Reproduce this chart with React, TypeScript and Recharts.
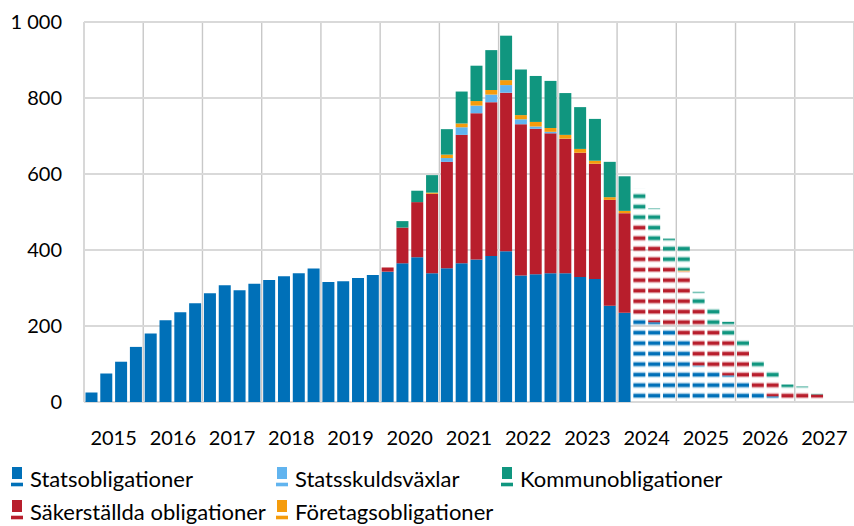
import React from 'react';
import { BarChart, Bar, XAxis, YAxis, CartesianGrid, Cell } from 'recharts';

const years = [2015, 2016, 2017, 2018, 2019, 2020, 2021, 2022, 2023, 2024, 2025, 2026, 2027];
const quarterNames = ['Q1', 'Q2', 'Q3', 'Q4'];
const yTicks = [0, 200, 400, 600, 800, 1000];

// Outcome 2015Q1 - 2024Q1
const statActual = [25, 75, 106, 145, 180, 215, 236, 260, 286, 307, 294, 311, 321, 331, 339, 351, 316, 318, 326, 334, 343, 365, 381, 339, 352, 365, 375, 384, 397, 333, 336, 339, 339, 329, 324, 253, 235];
const sakActual = [0, 0, 0, 0, 0, 0, 0, 0, 0, 0, 0, 0, 0, 0, 0, 0, 0, 0, 0, 0, 11, 94, 145, 209, 280, 338, 385, 405, 417, 398, 383, 368, 354, 327, 303, 279, 262];
const vaxActual = [0, 0, 0, 0, 0, 0, 0, 0, 0, 0, 0, 0, 0, 0, 0, 0, 0, 0, 0, 0, 0, 0, 0, 0, 10, 20, 20, 20, 20, 13, 6, 4, 0, 0, 0, 0, 0];
const forActual = [0, 0, 0, 0, 0, 0, 0, 0, 0, 0, 0, 0, 0, 0, 0, 0, 0, 0, 0, 0, 0, 0, 0, 3, 9, 10, 12, 12, 13, 11, 12, 10, 10, 10, 8, 7, 6];
const komActual = [0, 0, 0, 0, 0, 0, 0, 0, 0, 0, 0, 0, 0, 0, 0, 0, 0, 0, 0, 0, 0, 17, 30, 46, 67, 84, 93, 105, 117, 120, 121, 124, 110, 110, 110, 93, 91];

// Forecast 2024Q2 - 2027Q4
const statForecast = [222, 210, 196, 168, 96, 85, 70, 58, 30, 15, 0, 0, 0, 0, 0];
const sakForecast = [250, 208, 166, 175, 156, 111, 98, 83, 55, 43, 30, 28, 20, 0, 0];
const vaxForecast = [0, 0, 0, 0, 0, 0, 0, 0, 0, 0, 0, 0, 0, 0, 0];
const forForecast = [0, 0, 0, 3, 0, 0, 0, 0, 0, 0, 0, 0, 0, 0, 0];
const komForecast = [89, 92, 68, 66, 38, 52, 43, 24, 25, 24, 16, 13, 2, 0, 0];

const seriesNames = ['Statsobligationer', 'Säkerställda obligationer', 'Statsskuldsväxlar', 'Företagsobligationer', 'Kommunobligationer'];
const seriesKeys = ['stat', 'sak', 'vax', 'for', 'kom'];
const seriesColors = ['#0070b8', '#b81e2c', '#61b4ef', '#f59c0c', '#10967f'];

const categories = years.flatMap((y) => quarterNames.map((q) => `${y} ${q}`));
const actualCount = statActual.length;

const join = (a: number[], f: number[]) => [...a, ...f];
const seriesValues: Record<string, number[]> = {
  stat: join(statActual, statForecast),
  sak: join(sakActual, sakForecast),
  vax: join(vaxActual, vaxForecast),
  for: join(forActual, forForecast),
  kom: join(komActual, komForecast),
};

const data = categories.map((q, i) => {
  const row: any = { q, pos: i + 0.5, fc: i >= actualCount };
  seriesKeys.forEach((k) => {
    row[k] = seriesValues[k][i];
  });
  return row;
});

const gridTicks = years.map((_, i) => i * 4);
const yearTicks = years.map((_, i) => i * 4 + 2);

const fmtY = (v: number) => (v >= 1000 ? `${Math.floor(v / 1000)} ${String(v % 1000).padStart(3, '0')}` : String(v));
const fmtYear = (v: number) => String(years[Math.round((v - 2) / 4)]);

const legendLayout = [
  { i: 0, left: 12, top: 467 },
  { i: 2, left: 277, top: 467 },
  { i: 4, left: 502, top: 467 },
  { i: 1, left: 12, top: 500 },
  { i: 3, left: 277, top: 500 },
];

const Empty = () => <g />;

export default function App() {
  return (
    <div style={{ position: 'absolute', left: 0, top: 0, width: 854, height: 526, fontFamily: 'Lato, sans-serif', background: '#fff', overflow: 'hidden' }}>
      <BarChart width={854} height={526} data={data} margin={{ top: 22, right: 0, left: 0, bottom: 74 }} barCategoryGap="10%">
        <defs>
          {seriesKeys.map((k, i) => (
            <pattern key={k} id={`pat-${k}`} patternUnits="userSpaceOnUse" x={0} y={0} width={20} height={10.5}>
              <rect x={0} y={4.4} width={20} height={5.6} fill={seriesColors[i]} fillOpacity={0.3} />
              <rect x={0} y={5.5} width={20} height={3.4} fill={seriesColors[i]} />
            </pattern>
          ))}
        </defs>
        <CartesianGrid xAxisId="g" yAxisId="l" horizontal={false} stroke="#c8c8c8" strokeWidth={1.4} />
        <CartesianGrid xAxisId="g" yAxisId="l" vertical={false} stroke="#d9d9d9" strokeWidth={1.8} />
        <XAxis xAxisId="cat" dataKey="q" hide height={0} />
        <XAxis xAxisId="g" type="number" dataKey="pos" domain={[0, 52]} ticks={gridTicks} interval={0} hide height={0} />
        <XAxis
          xAxisId="yr"
          type="number"
          dataKey="pos"
          domain={[0, 52]}
          ticks={yearTicks}
          interval={0}
          tickFormatter={fmtYear}
          axisLine={false}
          tickLine={false}
          tickSize={0}
          tickMargin={29}
          height={50}
          tick={{ fill: '#000', fontSize: 20 }}
        />
        <YAxis
          yAxisId="l"
          domain={[0, 1000]}
          ticks={yTicks}
          interval={0}
          tickFormatter={fmtY}
          width={84}
          axisLine={false}
          tickLine={false}
          tickSize={0}
          tickMargin={22}
          tick={{ fill: '#000', fontSize: 20 }}
        />
        <YAxis
          yAxisId="in"
          orientation="left"
          mirror
          width={0}
          domain={[0, 1000]}
          ticks={yTicks}
          interval={0}
          tickSize={11}
          tick={Empty}
          axisLine={{ stroke: '#5a5a5a', strokeWidth: 1.6 }}
          tickLine={{ stroke: '#5a5a5a', strokeWidth: 1.6 }}
        />
        <YAxis
          yAxisId="r"
          orientation="right"
          mirror
          width={0}
          domain={[0, 1000]}
          ticks={yTicks}
          interval={0}
          tickSize={8}
          tick={Empty}
          axisLine={false}
          tickLine={{ stroke: '#5a5a5a', strokeWidth: 2 }}
        />
        {seriesKeys.map((k, si) => (
          <Bar key={k} dataKey={k} name={seriesNames[si]} stackId="a" xAxisId="cat" yAxisId="l" isAnimationActive={false}>
            {data.map((d, i) => (
              <Cell key={i} fill={d.fc ? `url(#pat-${k})` : seriesColors[si]} />
            ))}
          </Bar>
        ))}
      </BarChart>
      {legendLayout.map(({ i, left, top }) => (
        <div key={i} style={{ position: 'absolute', left, top, height: 26 }}>
          <div style={{ position: 'absolute', left: 0, top: 0, width: 10, height: 12, background: seriesColors[i] }} />
          <div style={{ position: 'absolute', left: -1, top: 15, width: 12, height: 5, background: seriesColors[i], opacity: 0.3 }} />
          <div style={{ position: 'absolute', left: -1, top: 16, width: 12, height: 3, background: seriesColors[i] }} />
          <div style={{ position: 'absolute', left: 18, top: -1, fontSize: 22, lineHeight: '26px', color: '#000', whiteSpace: 'nowrap' }}>{seriesNames[i]}</div>
        </div>
      ))}
    </div>
  );
}
